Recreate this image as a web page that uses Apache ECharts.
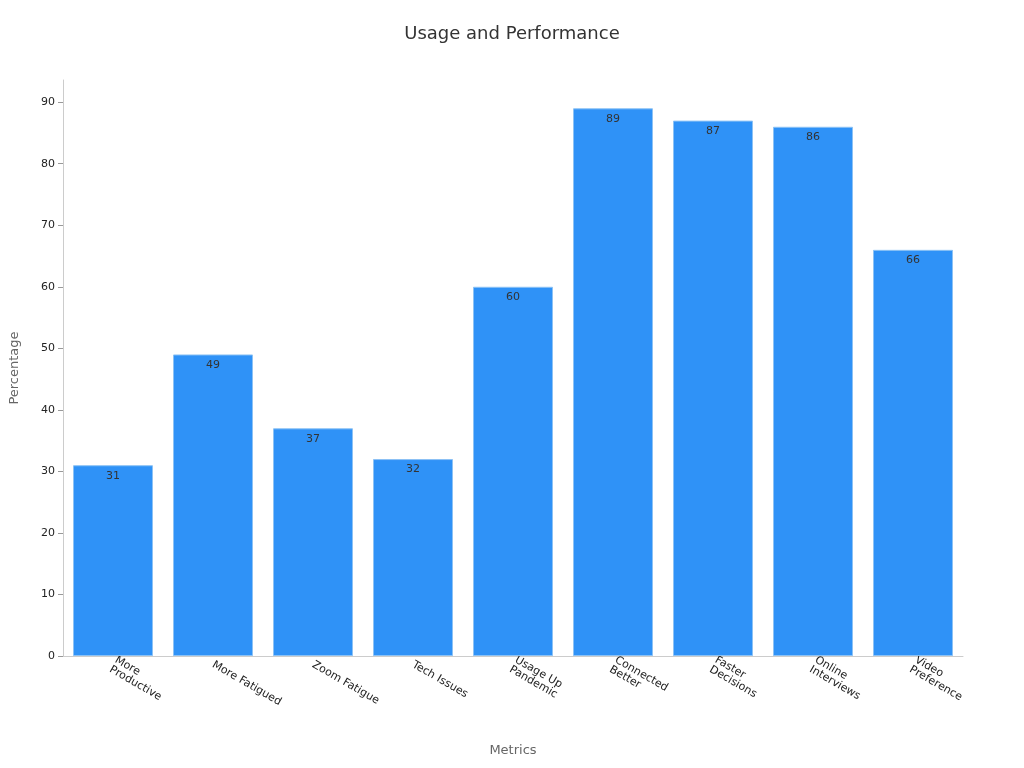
<!DOCTYPE html>
<html><head><meta charset="utf-8">
<script src="https://cdn.jsdelivr.net/npm/echarts@6/dist/echarts.min.js"></script>
<style>html,body{margin:0;padding:0}#c{width:1024px;height:768px}</style>
</head><body><div id="c"></div>
<script>
const categories = ["More Productive","More Fatigued","Zoom Fatigue","Tech Issues","Usage Up Pandemic","Connected Better","Faster Decisions","Online Interviews","Video Preference"];
const values = [31,49,37,32,60,89,87,86,66];
const chart = echarts.init(document.getElementById('c'));
chart.setOption({
  textStyle:{fontFamily:'DejaVu Sans'},
  title:{text:'Usage and Performance',left:'center',top:20,textStyle:{fontSize:18,fontWeight:'normal',color:'#333'}},
  grid:{left:60,right:61,top:80,bottom:112},
  xAxis:{type:'category',data:categories,name:'Metrics',nameLocation:'middle',nameGap:88,
    nameTextStyle:{color:'#666',fontSize:13},
    axisLine:{lineStyle:{color:'#ccc'}},axisTick:{alignWithLabel:true,lineStyle:{color:'#999'}},
    axisLabel:{rotate:-30,color:'#222',fontSize:11,interval:0,width:80,overflow:'break'}},
  yAxis:{type:'value',min:0,max:93.6,interval:10,name:'Percentage',nameLocation:'middle',nameGap:42,
    nameTextStyle:{color:'#666',fontSize:13},
    axisLine:{show:true,lineStyle:{color:'#ccc'}},axisTick:{show:true,lineStyle:{color:'#999'}},
    splitLine:{show:false},axisLabel:{color:'#222',fontSize:11,showMaxLabel:false}},
  series:[{type:'bar',data:values,barCategoryGap:'20%',
    itemStyle:{color:'#2f92f7',borderColor:'#8cc2f5',borderWidth:1},
    label:{show:true,position:'insideTop',color:'#333',fontSize:11}}]
});
</script></body></html>
